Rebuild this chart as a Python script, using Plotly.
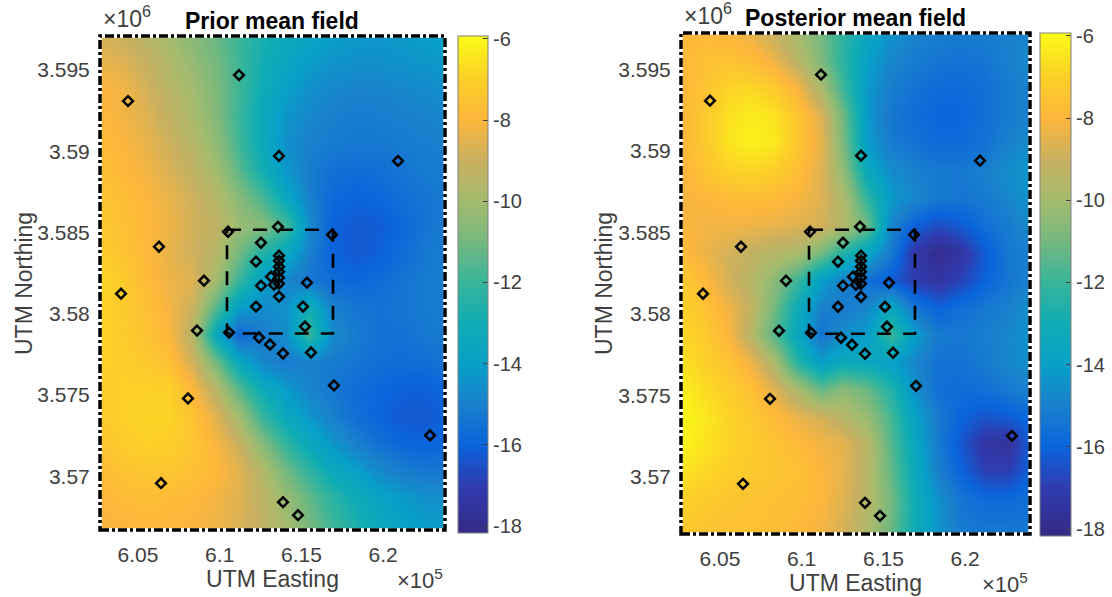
import plotly.graph_objects as go

easting = [602600, 604030, 605460, 606890, 608320, 609750, 611180, 612610,
           614040, 615470, 616900, 618330, 619760, 621190, 622620, 624050]
northing = [3597200, 3595520, 3593840, 3592160, 3590480, 3588800, 3587120, 3585440, 3583760, 3582080,
            3580400, 3578720, 3577040, 3575360, 3573680, 3572000, 3570320, 3568640, 3566500]

prior = [
 [-8.8,-9.0,-9.5,-10.0,-10.6,-11.2,-12.0,-12.8,-13.3,-13.7,-14.0,-14.2,-14.3,-14.2,-14.0,-13.9],
 [-8.4,-8.6,-9.1,-9.7,-10.3,-11.0,-11.9,-12.9,-13.6,-14.1,-14.4,-14.5,-14.5,-14.4,-14.3,-14.2],
 [-8.0,-8.2,-8.8,-9.4,-10.0,-10.8,-11.9,-13.1,-14.0,-14.5,-14.8,-14.9,-14.9,-14.8,-14.7,-14.5],
 [-7.9,-8.2,-8.6,-9.2,-9.8,-10.7,-12.0,-13.3,-14.3,-14.8,-15.0,-15.2,-15.1,-15.0,-14.9,-14.8],
 [-7.8,-8.0,-8.4,-8.9,-9.5,-10.4,-11.9,-13.3,-14.5,-15.0,-15.2,-15.3,-15.3,-15.2,-15.1,-15.0],
 [-7.6,-7.9,-8.2,-8.7,-9.2,-10.0,-11.4,-12.9,-14.3,-15.1,-15.6,-15.7,-15.6,-15.4,-15.2,-15.1],
 [-7.4,-7.7,-8.0,-8.4,-8.9,-9.5,-10.6,-11.7,-13.5,-15.0,-15.8,-16.0,-15.9,-15.6,-15.4,-15.2],
 [-7.3,-7.6,-7.9,-8.3,-8.8,-9.3,-10.2,-10.6,-11.8,-14.6,-16.0,-16.3,-16.2,-15.8,-15.4,-15.2],
 [-7.1,-7.5,-7.9,-8.4,-8.9,-9.5,-11.0,-12.5,-13.5,-15.0,-16.0,-16.3,-16.1,-15.7,-15.3,-15.1],
 [-6.8,-7.2,-7.8,-8.3,-8.6,-10.0,-12.0,-14.0,-14.8,-15.4,-15.7,-15.9,-15.7,-15.4,-15.2,-15.0],
 [-6.9,-7.2,-7.6,-8.2,-8.9,-11.5,-14.0,-14.6,-14.5,-13.0,-15.0,-15.4,-15.5,-15.4,-15.2,-15.1],
 [-6.9,-7.2,-7.5,-8.0,-9.5,-13.5,-15.9,-15.2,-14.6,-12.0,-14.6,-15.2,-15.5,-15.5,-15.3,-15.2],
 [-7.0,-7.1,-7.3,-7.6,-8.8,-11.0,-13.5,-14.8,-15.2,-15.0,-15.2,-15.4,-15.6,-15.7,-15.6,-15.4],
 [-7.2,-7.0,-7.0,-7.0,-7.9,-9.5,-11.5,-13.2,-14.2,-14.9,-15.3,-15.7,-15.9,-16.1,-16.1,-15.9],
 [-7.3,-7.0,-6.9,-6.9,-7.5,-8.5,-10.0,-12.0,-13.4,-14.3,-15.0,-15.6,-16.0,-16.3,-16.3,-16.0],
 [-7.5,-7.2,-7.0,-7.1,-7.4,-8.1,-9.0,-10.6,-12.2,-13.4,-14.3,-15.0,-15.5,-15.9,-16.0,-15.8],
 [-7.8,-7.5,-7.4,-7.4,-7.6,-7.9,-8.5,-9.6,-11.0,-12.2,-13.3,-14.0,-14.7,-15.1,-15.3,-15.3],
 [-8.0,-7.8,-7.7,-7.8,-7.9,-8.2,-8.6,-9.3,-10.2,-11.3,-12.3,-13.1,-13.8,-14.2,-14.5,-14.5],
 [-8.2,-8.1,-8.0,-8.0,-8.1,-8.3,-8.7,-9.2,-9.9,-10.8,-11.8,-12.6,-13.3,-13.8,-14.0,-14.1],
]

posterior = [
 [-8.0,-7.9,-8.0,-8.4,-9.0,-10.0,-11.0,-12.3,-13.6,-14.5,-14.9,-15.1,-15.2,-15.1,-15.0,-14.9],
 [-7.9,-7.6,-7.5,-7.7,-8.3,-9.4,-10.8,-12.4,-14.0,-14.8,-15.2,-15.4,-15.5,-15.4,-15.0,-14.7],
 [-8.0,-7.5,-6.9,-6.8,-7.2,-8.1,-9.8,-12.0,-14.3,-15.1,-15.5,-15.8,-15.8,-15.6,-15.2,-14.9],
 [-8.0,-7.3,-6.6,-6.3,-6.5,-7.4,-8.6,-11.2,-14.3,-15.3,-15.7,-15.9,-15.9,-15.6,-15.2,-14.9],
 [-8.0,-7.3,-6.5,-6.2,-6.4,-7.4,-8.4,-11.0,-14.2,-15.2,-15.5,-15.8,-15.8,-15.5,-15.0,-14.6],
 [-8.1,-7.5,-7.0,-6.9,-7.1,-7.7,-8.6,-10.5,-13.5,-14.6,-15.0,-15.3,-15.3,-15.0,-14.6,-14.3],
 [-8.2,-8.0,-7.8,-7.7,-7.8,-8.1,-8.6,-9.8,-12.3,-14.2,-14.8,-15.2,-15.4,-15.2,-14.8,-14.4],
 [-8.0,-8.2,-8.2,-8.3,-8.4,-8.6,-8.8,-9.6,-11.2,-14.8,-16.0,-16.6,-16.2,-15.6,-15.2,-14.6],
 [-7.8,-8.3,-8.8,-9.2,-9.5,-9.8,-11.0,-12.6,-13.8,-15.2,-17.2,-18.0,-17.4,-16.2,-15.3,-15.0],
 [-7.2,-7.9,-8.8,-9.5,-10.5,-12.0,-14.0,-15.0,-15.6,-16.2,-17.0,-17.4,-16.8,-16.0,-15.4,-14.9],
 [-7.0,-7.5,-8.2,-9.2,-11.0,-13.2,-15.0,-15.2,-14.8,-13.5,-15.3,-16.0,-15.6,-15.3,-15.0,-14.5],
 [-6.8,-7.2,-8.0,-9.5,-11.5,-13.6,-15.5,-14.5,-14.0,-12.0,-14.0,-15.2,-15.3,-15.1,-14.8,-14.4],
 [-6.6,-7.0,-7.5,-8.3,-9.8,-12.5,-14.0,-13.3,-13.5,-14.0,-14.8,-15.5,-15.5,-15.2,-14.8,-14.5],
 [-6.2,-6.7,-7.1,-7.6,-8.5,-9.8,-11.2,-10.5,-11.2,-12.5,-14.5,-15.6,-15.7,-15.6,-15.3,-14.9],
 [-6.0,-6.4,-6.9,-7.3,-7.8,-8.4,-8.8,-9.5,-10.3,-11.8,-13.8,-15.2,-16.0,-16.4,-16.2,-15.8],
 [-6.1,-6.5,-6.9,-7.2,-7.5,-7.8,-8.2,-8.5,-9.5,-11.5,-13.5,-15.2,-16.3,-17.4,-17.6,-16.0],
 [-6.5,-6.8,-7.1,-7.3,-7.4,-7.6,-8.0,-8.5,-9.5,-11.3,-13.3,-15.0,-16.0,-16.9,-16.9,-16.0],
 [-7.0,-7.2,-7.4,-7.5,-7.6,-7.7,-8.0,-8.6,-9.5,-11.0,-13.0,-14.5,-15.4,-15.8,-15.8,-15.6],
 [-7.3,-7.5,-7.6,-7.6,-7.7,-7.9,-8.2,-8.8,-9.8,-11.2,-13.0,-14.4,-15.2,-15.3,-15.3,-15.2],
]

well_e = [611181, 604388, 613629, 620912, 613568, 610508, 616873, 606285, 612528,
          613629, 613629, 613629, 613629, 613629, 613629, 612222, 613140, 612528, 613323,
          615343, 613629, 609039, 603960, 612222, 615098, 615220, 608611, 610569, 612405,
          613078, 613874, 615588, 616995, 608060, 622870, 606408, 613874, 614792]
well_n = [3594693, 3593097, 3589720, 3589413, 3585360, 3585053, 3584869, 3584132, 3584378,
          3583580, 3583273, 3582905, 3582597, 3582229, 3581860, 3583211, 3582290, 3581738, 3581799,
          3581922, 3581062, 3582045, 3581246, 3580448, 3580448, 3579220, 3578975, 3578852, 3578545,
          3578115, 3577562, 3577624, 3575597, 3574799, 3572528, 3569580, 3568413, 3567615]
box_e = [610447, 616934, 616934, 610447, 610447]
box_n = [3585176, 3585176, 3578790, 3578790, 3585176]

x_ticks = [605000, 610000, 615000, 620000]
x_labels = ["6.05", "6.1", "6.15", "6.2"]
y_ticks = [3570000, 3575000, 3580000, 3585000, 3590000, 3595000]
y_labels = ["3.57", "3.575", "3.58", "3.585", "3.59", "3.595"]
bar_ticks = [-18, -16, -14, -12, -10, -8, -6]
bar_labels = ["-18", "-16", "-14", "-12", "-10", "-8", "-6"]

parula = [[0.0, "#352a87"], [0.096, "#2f3cb0"], [0.177, "#0a64dc"], [0.259, "#1a80cc"], [0.34, "#07a0c8"],
          [0.422, "#10acb4"], [0.504, "#38b59a"], [0.586, "#75b87f"], [0.667, "#a3bb6e"], [0.749, "#c9b060"],
          [0.831, "#fdb63c"], [0.913, "#fcd028"], [1.0, "#f9fb15"]]
CMIN, CMAX = -18.17, -5.93
W, H = 1112, 597
FONT = "Liberation Sans"
GREY = "#404040"

panels = [
    dict(z=prior, title="Prior mean field", px=(100, 445), py=(36, 530), xr=(602674, 623788), yr=(3566700, 3597100),
         bar=(458, 488, 36, 533), suffix="", tx=272, ylab=24),
    dict(z=posterior, title="Posterior mean field", px=(681, 1030), py=(33, 534), xr=(602613, 623972), yr=(3566500, 3597250),
         bar=(1040, 1071, 33, 536), suffix="2", tx=855, ylab=604),
]

fig = go.Figure()
shapes = []
ann = []
for p in panels:
    s = p["suffix"]
    xa, ya = "x" + s, "y" + s
    bx0, bx1, by0, by1 = p["bar"]
    fig.add_trace(go.Heatmap(
        x=easting, y=northing, z=p["z"], xaxis=xa, yaxis=ya, zsmooth="best",
        colorscale=parula, zmin=CMIN, zmax=CMAX,
        colorbar=dict(x=bx0 / W, xanchor="left", xref="paper", y=1 - by1 / H, yanchor="bottom", yref="paper",
                      len=(by1 - by0) / H, lenmode="fraction", thickness=bx1 - bx0, thicknessmode="pixels",
                      tickvals=bar_ticks, ticktext=bar_labels, ticks="inside", ticklen=5, tickcolor=GREY, tickwidth=1,
                      outlinecolor="#808080", outlinewidth=1, xpad=0, ypad=0,
                      tickfont=dict(family=FONT, size=20, color=GREY)),
    ))
    fig.add_trace(go.Scatter(x=well_e, y=well_n, mode="markers", xaxis=xa, yaxis=ya,
                             marker=dict(symbol="diamond-open", size=7.5, color="black", line=dict(width=2.5, color="black")),
                             showlegend=False))
    fig.add_trace(go.Scatter(x=box_e, y=box_n, mode="lines", xaxis=xa, yaxis=ya,
                             line=dict(color="black", width=2.6, dash="14px 12px"), showlegend=False))
    axis_x = dict(domain=[p["px"][0] / W, p["px"][1] / W], range=list(p["xr"]), tickvals=x_ticks, ticktext=x_labels,
                  ticks="outside", ticklen=6, tickcolor="rgba(0,0,0,0)", showgrid=False, zeroline=False, showline=False,
                  tickfont=dict(family=FONT, size=21, color=GREY),
                  title=dict(text="UTM Easting", font=dict(family=FONT, size=23, color=GREY), standoff=3),
                  anchor=ya)
    axis_y = dict(domain=[1 - p["py"][1] / H, 1 - p["py"][0] / H], range=list(p["yr"]), tickvals=y_ticks, ticktext=y_labels,
                  ticks="outside", ticklen=5, tickcolor="rgba(0,0,0,0)", showgrid=False, zeroline=False, showline=False,
                  tickfont=dict(family=FONT, size=21, color=GREY),
                  anchor=xa)
    fig.layout["xaxis" + s] = axis_x
    fig.layout["yaxis" + s] = axis_y
    for dash, col in (("solid", "white"), ("9px 3px 3px 3px", "black")):
        shapes.append(dict(type="rect", xref=xa + " domain", yref=ya + " domain", x0=0, x1=1, y0=0, y1=1,
                           line=dict(color=col, width=3.5, dash=dash), layer="above"))
    ann.append(dict(text="UTM Northing", x=p["ylab"] / W, y=1 - 284 / H, xref="paper", yref="paper", textangle=-90,
                    showarrow=False, xanchor="center", yanchor="middle",
                    font=dict(family=FONT, size=23, color=GREY)))
    ann.append(dict(text="<b>%s</b>" % p["title"], x=p["tx"] / W, y=1 - (p["py"][0] - 15) / H, xref="paper", yref="paper",
                    showarrow=False, xanchor="center", yanchor="middle",
                    font=dict(family=FONT, size=23, color="black")))
    ann.append(dict(text="×10<sup>6</sup>", x=(p["px"][0] + 1) / W, y=1 - (p["py"][0] - 2) / H, xref="paper", yref="paper",
                    showarrow=False, xanchor="left", yanchor="bottom",
                    font=dict(family=FONT, size=23, color=GREY)))
    ann.append(dict(text="×10<sup>5</sup>", x=p["px"][1] / W, y=1 - (p["py"][1] + 33) / H, xref="paper", yref="paper",
                    showarrow=False, xanchor="right", yanchor="top",
                    font=dict(family=FONT, size=22, color=GREY)))

fig.update_layout(width=W, height=H, margin=dict(l=0, r=0, t=0, b=0), paper_bgcolor="white", plot_bgcolor="white",
                  showlegend=False, shapes=shapes, annotations=ann)
fig.write_html("out.html", config=dict(displayModeBar=False),
               post_script="document.body.style.margin='0';document.body.style.overflow='hidden';")
